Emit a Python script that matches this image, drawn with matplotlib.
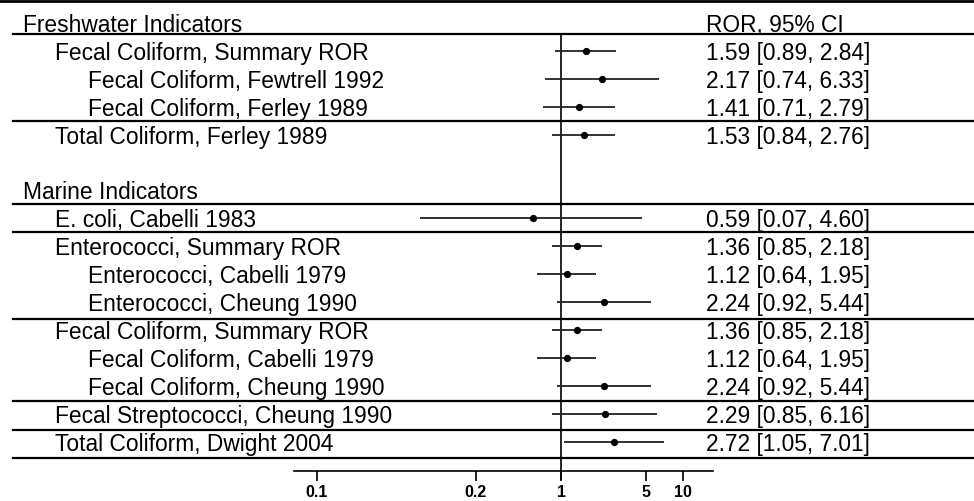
import matplotlib.pyplot as plt
import numpy as np

# rows of the forest plot
labels = ["Fecal Coliform, Summary ROR", "Fecal Coliform, Fewtrell 1992",
          "Fecal Coliform, Ferley 1989", "Total Coliform, Ferley 1989",
          "E. coli, Cabelli 1983", "Enterococci, Summary ROR",
          "Enterococci, Cabelli 1979", "Enterococci, Cheung 1990",
          "Fecal Coliform, Summary ROR", "Fecal Coliform, Cabelli 1979",
          "Fecal Coliform, Cheung 1990", "Fecal Streptococci, Cheung 1990",
          "Total Coliform, Dwight 2004"]
ror = [1.59, 2.17, 1.41, 1.53, 0.59, 1.36, 1.12, 2.24, 1.36, 1.12, 2.24, 2.29, 2.72]
ci_lo = [0.89, 0.74, 0.71, 0.84, 0.07, 0.85, 0.64, 0.92, 0.85, 0.64, 0.92, 0.85, 1.05]
ci_hi = [2.84, 6.33, 2.79, 2.76, 4.60, 2.18, 1.95, 5.44, 2.18, 1.95, 5.44, 6.16, 7.01]
indent = [1, 2, 2, 1, 1, 1, 2, 2, 1, 2, 2, 1, 1]
rows = [1, 2, 3, 4, 7, 8, 9, 10, 11, 12, 13, 14, 15]

headers = ["Freshwater Indicators", "Marine Indicators"]
header_rows = [0, 6]
separators = [0.4, 3.52, 6.5, 7.5, 10.62, 13.56, 14.57, 15.6]

# x axis ticks (the original labels the leftmost tick "0.1")
tick_vals = [0.01, 0.2, 1, 5, 10]
tick_labels = ["0.1", "0.2", "1", "5", "10"]

W, H = 974, 501
fig = plt.figure(figsize=(W / 100, H / 100), dpi=100)
ax_bottom = (H - 471) / H
ax = fig.add_axes([0, ax_bottom, 1, 1 - ax_bottom])

px_per_dec = 122.0
x_one = 561.0
ax.set_xscale('log')
ax.set_xlim(10 ** (-x_one / px_per_dec), 10 ** ((W - x_one) / px_per_dec))
ax.set_ylim((471 - 23) / 27.9, -23 / 27.9)

font = 'Liberation Sans'
fs = 16.4
indent_px = {0: 23, 1: 55, 2: 88}
ytr = ax.get_yaxis_transform()

for h, r in zip(headers, header_rows):
    ax.text(indent_px[0] / W, r, h, transform=ytr,
            ha='left', va='center_baseline', fontsize=fs, family=font)

for lab, r, lev in zip(labels, rows, indent):
    ax.text(indent_px[lev] / W, r, lab, transform=ytr,
            ha='left', va='center_baseline', fontsize=fs, family=font)

ax.text(706 / W, 0, "ROR, 95% CI", transform=ytr,
        ha='left', va='center_baseline', fontsize=fs, family=font)
for r, m, lo, hi in zip(rows, ror, ci_lo, ci_hi):
    ax.text(706 / W, r, f"{m:.2f} [{lo:.2f}, {hi:.2f}]", transform=ytr,
            ha='left', va='center_baseline', fontsize=fs, family=font)

# separator lines
for s in separators:
    ax.axhline(s, xmin=13 / W, xmax=1, color='black', lw=1.6)
ax.axhline(-23 / 27.9 + 0.03, color='black', lw=2)

# reference line at 1
ax.plot([1, 1], [separators[0], (471 - 23) / 27.9 + 0.3], color='black',
        lw=1.2, clip_on=False, zorder=1)

# CIs and points
ax.hlines(rows, ci_lo, ci_hi, color='#222222', lw=1.3, zorder=2)
ax.plot(ror, rows, 'o', color='black', ms=4.2, zorder=3)

for sp in ['top', 'left', 'right']:
    ax.spines[sp].set_visible(False)
ax.spines['bottom'].set_bounds(0.0065, 17.6)
ax.spines['bottom'].set_linewidth(1.2)
ax.set_yticks([])
ax.set_xticks(tick_vals)
ax.set_xticklabels(tick_labels)
ax.xaxis.set_minor_locator(plt.NullLocator())
ax.tick_params(axis='x', direction='out', length=7, width=1.2, pad=3,
               labelsize=11.5)
for t in ax.get_xticklabels():
    t.set_family(font)
    t.set_fontweight('bold')

fig.savefig('out.png', dpi=100)
